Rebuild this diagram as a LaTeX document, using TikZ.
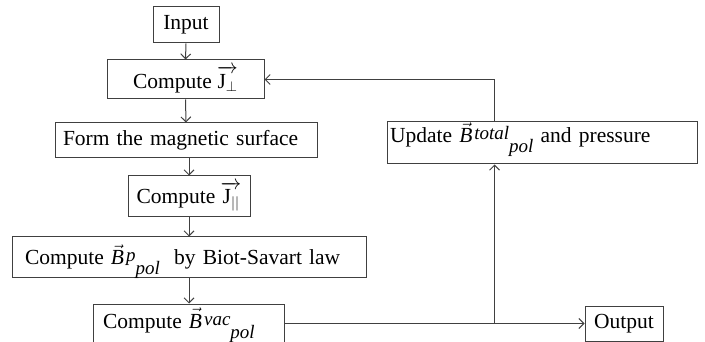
\documentclass[tikz,border=0pt]{standalone}
\usepackage{amsmath,amssymb,fontspec}
\setmainfont{Liberation Serif}
\usetikzlibrary{arrows.meta}
\newcommand{\scr}[1]{{\fontsize{19}{19}\selectfont\itshape #1}}
\newcommand{\bfield}[2]{$\vec{\text{\itshape B}}$\kern2pt\raisebox{3pt}{\scr{#1}}\raisebox{-10pt}{\scr{#2}}}

\begin{document}
\begin{tikzpicture}[x=1pt,y=-1pt,line width=1pt,
  >={Straight Barb[length=5pt,width=10pt]},
  stepbox/.style={draw=black!75,fill=white,inner sep=0pt,align=center,
    font=\fontsize{21.5}{24}\selectfont},
  leftbox/.style 2 args={align=left,inner xsep=#1,text width=#2},
  basebox/.style 2 args={anchor=base,text height=#1,text depth=#2},
  flow/.style={draw=black!75,->}]
\path[use as bounding box] (0,0) rectangle (705,342);
% main column
\node[stepbox,minimum width=66,minimum height=36] (inp) at (186,25) {Input};
\node[stepbox,minimum width=157,minimum height=39] (jperp) at (185.5,79.5) {Compute $\overrightarrow{\mathrm{J}_{\perp}}$};
\node[stepbox,leftbox={8}{246},minimum height=35] (form) at (186,140.5) {Form the magnetic surface};
\node[stepbox,minimum width=122,minimum height=41] (jpar) at (189,196.5) {Compute $\overrightarrow{\mathrm{J}_{||}}$};
\node[stepbox,leftbox={13}{328},basebox={28}{12}] (biot) at (189,265) {Compute \bfield{p}{pol}\ \ by Biot-Savart law};
\node[stepbox,leftbox={10}{171},basebox={24}{18}] (bvac) at (188.5,328) {Compute \bfield{vac}{pol}};
% right side
\node[stepbox,leftbox={3}{304},basebox={21}{21}] (upd) at (542,143) {Update \bfield{total}{pol} and pressure};
\node[stepbox,minimum width=78,minimum height=35] (out) at (624,323.5) {Output};
\coordinate (split) at (494.5,323.5);

\draw[flow] (inp.south) -- (jperp.north);
\draw[flow] (jperp.south) -- (form.north);
\draw[flow] (form.south -| jpar) -- (jpar.north);
\draw[flow] (jpar.south) -- (biot.north -| jpar);
\draw[flow] (biot.south) -- (bvac.north -| biot);
\draw[flow] (bvac.east |- out.west) -- (out.west);
\draw[flow] (split) -- (split |- upd.south);
\draw[flow] (split |- upd.north) |- (jperp.east);
\end{tikzpicture}
\end{document}
